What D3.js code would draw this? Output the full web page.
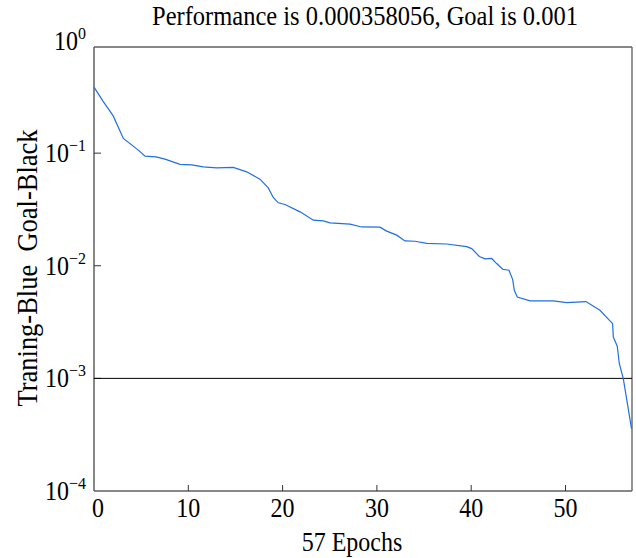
<!DOCTYPE html>
<html><head><meta charset="utf-8">
<script src="https://cdn.jsdelivr.net/npm/d3@7"></script>
<style>body{margin:0;background:#fff}</style>
</head><body>
<script>
const epochs = [0, 0.95, 1.62, 2.05, 3.11, 4.70, 5.41, 6.57, 7.53, 9.12, 10.36, 11.59, 13.01, 14.77, 16.19, 17.6, 18.48, 19.01, 19.54, 20.25, 21.85, 23.26, 24.32, 25.03, 27.15, 28.39, 30.33, 31.04, 32.1, 32.98, 34.04, 35.28, 37.4, 39.52, 40.05, 40.86, 41.46, 42.17, 42.7, 43.34, 44.01, 44.4, 44.57, 44.89, 46.24, 48.71, 50.13, 52.17, 53.65, 55.0, 55.07, 55.49, 55.71, 56.13, 57];
const performance = [0.386, 0.290, 0.241, 0.213, 0.135, 0.1063, 0.0940, 0.0927, 0.0885, 0.0794, 0.0787, 0.0755, 0.0740, 0.0746, 0.0682, 0.0587, 0.0491, 0.0404, 0.0362, 0.0350, 0.0301, 0.0254, 0.0250, 0.0240, 0.0234, 0.0221, 0.0220, 0.0203, 0.0187, 0.0166, 0.0165, 0.0158, 0.0156, 0.0148, 0.0142, 0.0121, 0.0115, 0.0116, 0.01046, 0.00931, 0.00912, 0.00754, 0.00606, 0.00528, 0.00487, 0.00487, 0.00471, 0.00481, 0.00402, 0.00306, 0.00233, 0.00193, 0.00135, 0.000994, 0.000358056];
const goal = 0.001;
const xTicks = [0, 10, 20, 30, 40, 50];
const yTickExps = [0, -1, -2, -3, -4];
const titleText = "Performance is 0.000358056, Goal is 0.001";
const xLabel = "57 Epochs";
const yLabel = "Traning-Blue  Goal-Black";

const W = 636, H = 558;
const L = 94, R = 632, T = 47, B = 491;
const svg = d3.select("body").append("svg").attr("width", W).attr("height", H)
  .style("font-family", "'Liberation Serif', 'Times New Roman', serif");

const x = d3.scaleLinear().domain([0, 57]).range([L, 631.5]);
const y = d3.scaleLog().domain([1e-4, 1]).range([B, 40.5]);
const SY = 1.1;

// frame
svg.append("line").attr("x1", L).attr("x2", R).attr("y1", T).attr("y2", T).attr("stroke", "#111").attr("stroke-width", 1);
svg.append("line").attr("x1", L).attr("x2", R).attr("y1", B).attr("y2", B).attr("stroke", "#111").attr("stroke-width", 1.2);
svg.append("line").attr("x1", L).attr("x2", L).attr("y1", T).attr("y2", B).attr("stroke", "#555").attr("stroke-width", 1.4);
svg.append("line").attr("x1", R).attr("x2", R).attr("y1", T).attr("y2", B).attr("stroke", "#666").attr("stroke-width", 1.4);

// x ticks
const gx = svg.append("g");
xTicks.forEach(t => {
  if (t > 0) gx.append("line").attr("x1", x(t)).attr("x2", x(t)).attr("y1", B).attr("y2", B - 6).attr("stroke", "#333");
  gx.append("text").attr("transform", `translate(${x(t) + (t === 0 ? 4 : 0)},517) scale(1,${SY})`)
    .attr("text-anchor", "middle").attr("font-size", 24).text(t);
});

// y ticks
const gy = svg.append("g");
yTickExps.forEach(e => {
  const v = Math.pow(10, e);
  const yy = y(v);
  if (e < 0 && e > -4) gy.append("line").attr("x1", L).attr("x2", L + 7).attr("y1", yy).attr("y2", yy).attr("stroke", "#333");
  const t = gy.append("text").attr("transform", `translate(86,${yy + 9}) scale(1,${SY})`)
    .attr("text-anchor", "end").attr("font-size", 24);
  t.append("tspan").text("10");
  t.append("tspan").attr("dy", -10).attr("font-size", 16).text(e === 0 ? "0" : "\u2212" + (-e));
});

// goal line
svg.append("line").attr("x1", x(0)).attr("x2", R).attr("y1", y(goal)).attr("y2", y(goal))
  .attr("stroke", "#000").attr("stroke-width", 1);

// performance line
const line = d3.line().x((d, i) => x(epochs[i])).y(d => y(d));
svg.append("path").datum(performance).attr("d", line)
  .attr("fill", "none").attr("stroke", "#1f6fe5").attr("stroke-width", 1.2);

// texts
svg.append("text").attr("transform", `translate(365,25) scale(1,${SY})`).attr("text-anchor", "middle")
  .attr("font-size", 24.5).text(titleText);
svg.append("text").attr("transform", `translate(352,551) scale(1,${SY})`).attr("text-anchor", "middle")
  .attr("font-size", 24).text(xLabel);
svg.append("text").attr("transform", `translate(37,268) rotate(-90) scale(1,${SY})`).attr("text-anchor", "middle")
  .attr("font-size", 26.5).style("white-space", "pre").attr("xml:space", "preserve").text(yLabel);
</script>
</body></html>
